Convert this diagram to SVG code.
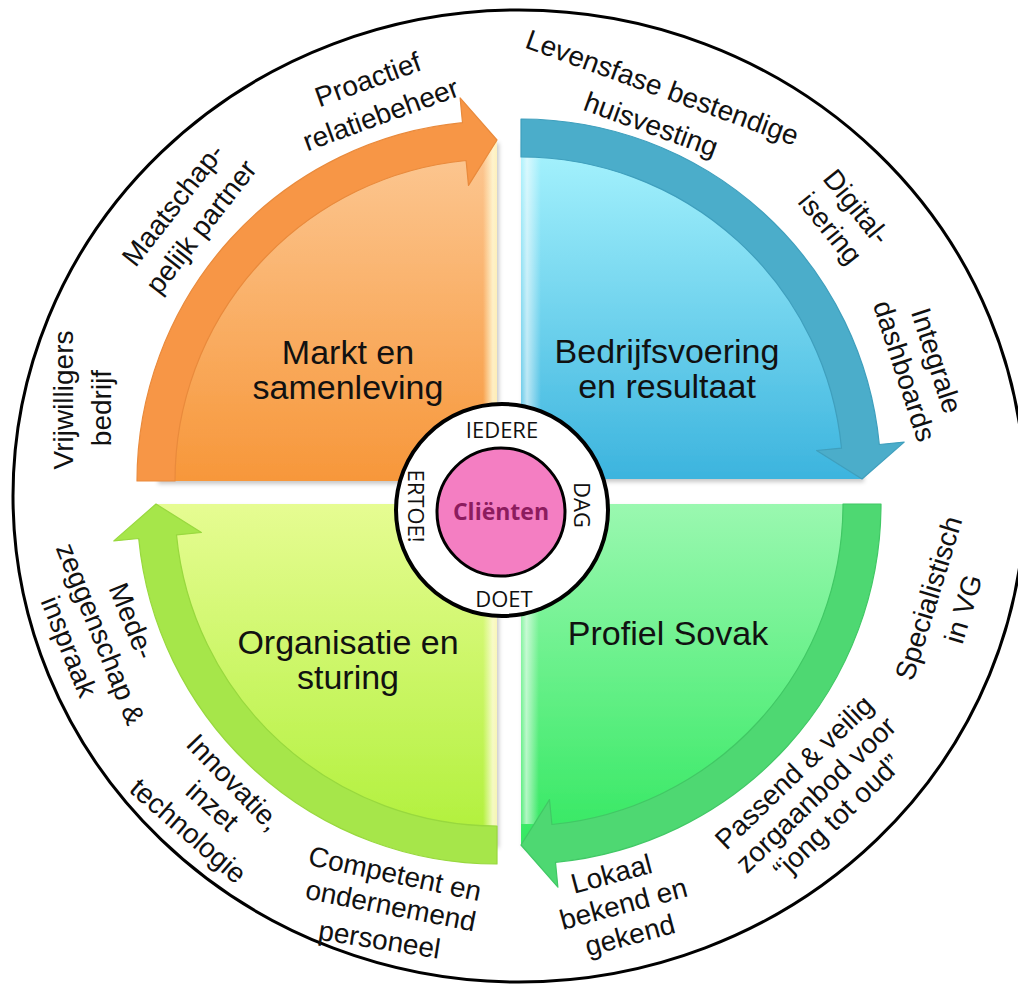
<svg xmlns="http://www.w3.org/2000/svg" width="1018" height="984" viewBox="0 0 1018 984">
<style>
.lbl{font-family:"Liberation Sans",Arial,sans-serif;font-size:28px;fill:#111;text-anchor:middle}
.main{font-family:"Liberation Sans",Arial,sans-serif;font-size:34px;fill:#111;text-anchor:middle}
.ring{font-family:"Open Sans","Liberation Sans",sans-serif;font-size:22px;fill:#111;text-anchor:middle}
</style>
<defs>
<linearGradient id="gOr" x1="0" y1="0" x2="0" y2="1"><stop offset="0" stop-color="#fcc894"/><stop offset="1" stop-color="#f7973a"/></linearGradient>
<linearGradient id="gBl" x1="0" y1="0" x2="0" y2="1"><stop offset="0" stop-color="#a8f4fe"/><stop offset="1" stop-color="#3cb4de"/></linearGradient>
<linearGradient id="gGr" x1="0" y1="0" x2="0" y2="1"><stop offset="0" stop-color="#9af8b0"/><stop offset="1" stop-color="#34e862"/></linearGradient>
<linearGradient id="gLi" x1="0" y1="0" x2="0" y2="1"><stop offset="0" stop-color="#e6fc92"/><stop offset="1" stop-color="#b0f03a"/></linearGradient>
<linearGradient id="hlR" x1="0" y1="0" x2="1" y2="0"><stop offset="0" stop-color="#fffbd8" stop-opacity="0"/><stop offset="0.7" stop-color="#fffbd8" stop-opacity="0.85"/><stop offset="1" stop-color="#fff6c0" stop-opacity="0.9"/></linearGradient>
<linearGradient id="hlL" x1="0" y1="0" x2="1" y2="0"><stop offset="0" stop-color="#ffffff" stop-opacity="0.15"/><stop offset="0.3" stop-color="#ffffff" stop-opacity="0.6"/><stop offset="1" stop-color="#ffffff" stop-opacity="0"/></linearGradient>
<filter id="sh" x="-5%" y="-5%" width="110%" height="110%"><feDropShadow dx="2" dy="3" stdDeviation="2" flood-color="#000" flood-opacity="0.22"/></filter>
</defs>
<rect width="1018" height="984" fill="#fff"/>
<ellipse cx="519" cy="496" rx="506" ry="486" fill="#fff" stroke="#000" stroke-width="3"/>

<g id="q-markt" filter="url(#sh)">
<path d="M497,481 L137,481 L156,481 A341,341 0 0 1 497,140 Z" fill="url(#gOr)"/>
<rect x="483" y="141" width="14" height="340" fill="url(#hlR)"/>
</g>
<g id="q-bedrijf" filter="url(#sh)">
<path d="M521,479 L521,138 A341,341 0 0 1 862,479 Z" fill="url(#gBl)"/>
<rect x="521" y="157" width="20" height="322" fill="url(#hlL)"/>
</g>
<g id="q-profiel" filter="url(#sh)">
<path d="M521,504 L862,504 A341,341 0 0 1 521,845 Z" fill="url(#gGr)"/>
<rect x="521" y="504" width="18" height="320" fill="url(#hlL)"/>
</g>
<g id="q-organisatie" filter="url(#sh)">
<path d="M497,504 L497,845 A341,341 0 0 1 156,504 Z" fill="url(#gLi)"/>
<rect x="483" y="504" width="14" height="322" fill="url(#hlR)"/>
</g>

<g id="connectors" stroke-width="1.2" stroke-linejoin="round">
<path d="M137,481 A360,360 0 0 1 462.5,122.7 L460.1,97.8 L497,140 L468.5,185.4 L466.1,160.5 A322,322 0 0 0 175,481 Z" fill="#f79646" stroke="#e98a3c"/>
<path d="M521,119 A360,360 0 0 1 879.3,444.5 L904.2,442.1 L862,479 L816.6,450.5 L841.5,448.1 A322,322 0 0 0 521,157 Z" fill="#4badca" stroke="#3f9fbd"/>
<path d="M881,504 A360,360 0 0 1 555.5,862.3 L557.9,887.2 L521,845 L549.5,799.6 L551.9,824.5 A322,322 0 0 0 843,504 Z" fill="#4ed872" stroke="#41c865"/>
<path d="M497,864 A360,360 0 0 1 138.7,538.5 L113.8,540.9 L156,504 L201.4,532.5 L176.5,534.9 A322,322 0 0 0 497,826 Z" fill="#a6e64a" stroke="#98d83e"/>
</g>

<g id="t-markt"><text class="main" x="348" y="364">Markt en</text><text class="main" x="348" y="399">samenleving</text></g>
<g id="t-bedrijf"><text class="main" x="667" y="363">Bedrijfsvoering</text><text class="main" x="667" y="398">en resultaat</text></g>
<g id="t-profiel"><text class="main" x="668" y="645">Profiel Sovak</text></g>
<g id="t-organisatie"><text class="main" x="348" y="654">Organisatie en</text><text class="main" x="348" y="689">sturing</text></g>

<g id="center">
<circle cx="502" cy="510" r="106" fill="#fff" stroke="#000" stroke-width="4"/>
<circle cx="501" cy="512" r="64" fill="#f47ec2" stroke="#000" stroke-width="3"/>
<text x="501" y="520" font-family="Open Sans, Liberation Sans, sans-serif" font-size="23" font-weight="bold" fill="#8c1c5e" text-anchor="middle">Cliënten</text>
<text class="ring" x="502" y="438">IEDERE</text>
<text class="ring" x="504" y="607">DOET</text>
<text class="ring" transform="translate(574,505) rotate(90)" x="0" y="0">DAG</text>
<text class="ring" transform="translate(408,506) rotate(90)" x="0" y="0">ERTOE!</text>
</g>

<g id="l-proactief" transform="translate(374.5,97.5) rotate(-20)"><text class="lbl" y="-9.6">Proactief</text><text class="lbl" y="27.6">relatiebeheer</text></g>
<g id="l-maatschap" transform="translate(187.5,216) rotate(-52)"><text class="lbl" y="-8.9">Maatschap-</text><text class="lbl" y="26.9">pelijk partner</text></g>
<g id="l-vrijwilligers" transform="translate(92,404) rotate(-90)"><text class="lbl" x="4" y="-19">Vrijwilligers</text><text class="lbl" x="-4" y="19">bedrijf</text></g>
<g id="l-levensfase" transform="translate(656.5,106.5) rotate(20)"><text class="lbl" x="-1" y="-10.3">Levensfase bestendige</text><text class="lbl" x="1" y="28.3">huisvesting</text></g>
<g id="l-digital" transform="translate(843,218) rotate(51)"><text class="lbl" y="-8">Digital-</text><text class="lbl" y="26">isering</text></g>
<g id="l-integrale" transform="translate(920,366) rotate(72)"><text class="lbl" y="-7.9">Integrale</text><text class="lbl" y="25.9">dashboards</text></g>
<g id="l-specialistisch" transform="translate(946.5,603.7) rotate(-73)"><text class="lbl" y="-9.2">Specialistisch</text><text class="lbl" y="27.2">in VG</text></g>
<g id="l-passend" transform="translate(816,795) rotate(-44)"><text class="lbl" y="-22">Passend &amp; veilig</text><text class="lbl" y="9">zorgaanbod voor</text><text class="lbl" y="40">“jong tot oud”</text></g>
<g id="l-lokaal" transform="translate(626,913) rotate(-15)"><text class="lbl" x="-4" y="-32">Lokaal</text><text class="lbl" y="0">bekend en</text><text class="lbl" x="-2" y="32">gekend</text></g>
<g id="l-competent">
<text class="lbl" transform="translate(393,883) rotate(12)">Competent en</text>
<text class="lbl" transform="translate(389,915) rotate(11)">ondernemend</text>
<text class="lbl" transform="translate(378,949) rotate(9)">personeel</text>
</g>
<g id="l-innovatie">
<text class="lbl" transform="translate(227,789) rotate(46)">Innovatie,</text>
<text class="lbl" transform="translate(206,813) rotate(42)">inzet</text>
<text class="lbl" transform="translate(182,838) rotate(41)">technologie</text>
</g>
<g id="l-mede" transform="translate(100,634) rotate(68)"><text class="lbl" y="-25">Mede-</text><text class="lbl" y="9">zeggenschap &amp;</text><text class="lbl" y="43">inspraak</text></g>
</svg>
